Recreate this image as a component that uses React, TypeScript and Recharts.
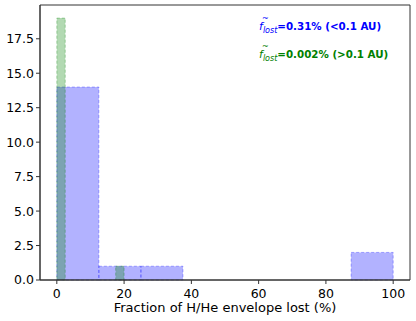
import { ComposedChart, ReferenceArea, Scatter, XAxis, YAxis } from "recharts";

// histogram bins (lower edge, upper edge, count)
const innerBinStart = [0, 12.5, 25, 87.5];
const innerBinEnd = [12.5, 25, 37.5, 100];
const innerCounts = [14, 1, 1, 2];

const outerBinStart = [0, 17.5];
const outerBinEnd = [2.5, 20];
const outerCounts = [19, 1];

const xTicks = [0, 20, 40, 60, 80, 100];
const yTicks = [0, 2.5, 5, 7.5, 10, 12.5, 15, 17.5];

const innerBins = innerBinStart.map((s, i) => ({ x1: s, x2: innerBinEnd[i], count: innerCounts[i] }));
const outerBins = outerBinStart.map((s, i) => ({ x1: s, x2: outerBinEnd[i], count: outerCounts[i] }));
const anchors = innerBins.map((b) => ({ x: (b.x1 + b.x2) / 2, y: 0 }));

const font = "DejaVu Sans, sans-serif";
const axisColor = "#333";

export default function App() {
  return (
    <div style={{ position: "absolute", left: 0, top: 0, width: 416, height: 321, background: "#fff", fontFamily: font }}>
      <ComposedChart width={416} height={321} data={anchors} margin={{ top: 5, right: 6, left: 0, bottom: 0 }}>
        <XAxis
          type="number"
          dataKey="x"
          domain={[-5, 105]}
          ticks={xTicks}
          allowDataOverflow
          height={41}
          tickSize={4}
          tickMargin={5}
          stroke={axisColor}
          tick={{ fill: "#000", fontSize: 12.5, fontFamily: font }}
          label={{ value: "Fraction of H/He envelope lost (%)", position: "insideBottom", offset: 9, fill: "#000", fontSize: 13, fontFamily: font }}
        />
        <YAxis
          type="number"
          domain={[0, 19.95]}
          ticks={yTicks}
          allowDataOverflow
          width={40}
          tickSize={4}
          tickMargin={2}
          stroke={axisColor}
          tickFormatter={(v: number) => v.toFixed(1)}
          tick={{ fill: "#000", fontSize: 12.5, fontFamily: font }}
        />
        {innerBins.map((b, i) => (
          <ReferenceArea
            key={"in" + i}
            x1={b.x1}
            x2={b.x2}
            y1={0}
            y2={b.count}
            fill="blue"
            fillOpacity={0.3}
            stroke="blue"
            strokeOpacity={0.3}
            strokeDasharray="3 2"
          />
        ))}
        {outerBins.map((b, i) => (
          <ReferenceArea
            key={"out" + i}
            x1={b.x1}
            x2={b.x2}
            y1={0}
            y2={b.count}
            fill="green"
            fillOpacity={0.3}
            stroke="green"
            strokeOpacity={0.3}
            strokeDasharray="3 2"
          />
        ))}
        <ReferenceArea x1={-5} x2={105} y1={0} y2={19.95} fill="none" stroke={axisColor} strokeOpacity={1} />
        <Scatter dataKey="y" fill="none" isAnimationActive={false} shape={() => <g />} />
      </ComposedChart>
      <svg width={416} height={321} style={{ position: "absolute", left: 0, top: 0, pointerEvents: "none" }}>
        <text x={262} y={21} fontSize={8} fill="blue" fontFamily={font}>~</text>
        <text x={259} y={30} fill="blue" fontSize={10.3} fontWeight="bold" fontFamily={font}>
          <tspan fontStyle="italic" fontWeight="normal" fontSize={11}>f</tspan>
          <tspan fontStyle="italic" fontWeight="normal" fontSize={8} dy={3}>lost</tspan>
          <tspan dy={-3}>=0.31% (&lt;0.1 AU)</tspan>
        </text>
        <text x={262} y={49} fontSize={8} fill="green" fontFamily={font}>~</text>
        <text x={259} y={58} fill="green" fontSize={10.3} fontWeight="bold" fontFamily={font}>
          <tspan fontStyle="italic" fontWeight="normal" fontSize={11}>f</tspan>
          <tspan fontStyle="italic" fontWeight="normal" fontSize={8} dy={3}>lost</tspan>
          <tspan dy={-3}>=0.002% (&gt;0.1 AU)</tspan>
        </text>
      </svg>
    </div>
  );
}
